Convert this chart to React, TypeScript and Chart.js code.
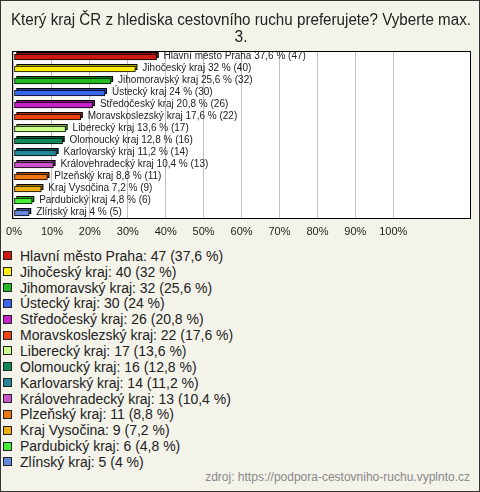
import React, { useEffect, useRef } from "react";
import { Chart, registerables } from "chart.js";

Chart.register(...registerables);

const titleLines = [
  "Který kraj ČR z hlediska cestovního ruchu preferujete? Vyberte max.",
  "3.",
];
const categories = [
  "Hlavní město Praha",
  "Jihočeský kraj",
  "Jihomoravský kraj",
  "Ústecký kraj",
  "Středočeský kraj",
  "Moravskoslezský kraj",
  "Liberecký kraj",
  "Olomoucký kraj",
  "Karlovarský kraj",
  "Královehradecký kraj",
  "Plzeňský kraj",
  "Kraj Vysočina",
  "Pardubický kraj",
  "Zlínský kraj",
];
const counts = [47, 40, 32, 30, 26, 22, 17, 16, 14, 13, 11, 9, 6, 5];
const percents = [37.6, 32, 25.6, 24, 20.8, 17.6, 13.6, 12.8, 11.2, 10.4, 8.8, 7.2, 4.8, 4];
const colors = [
  "#cc1a10",
  "#ffee11",
  "#22bb22",
  "#3a66ee",
  "#c522cc",
  "#ee4411",
  "#ccff88",
  "#11885a",
  "#228899",
  "#cc55cc",
  "#ee7711",
  "#eeb011",
  "#44ee33",
  "#6688dd",
];
const tickValues = [0, 10, 20, 30, 40, 50, 60, 70, 80, 90, 100];
const sourceText = "zdroj: https://podpora-cestovniho-ruchu.vyplnto.cz";

const FONT = "'Liberation Sans', Arial, sans-serif";

const fmt = (p: number) => String(p).replace(".", ",");

function darker(hex: string, f = 0.7) {
  const n = parseInt(hex.slice(1), 16);
  const r = Math.round(((n >> 16) & 255) * f);
  const g = Math.round(((n >> 8) & 255) * f);
  const b = Math.round((n & 255) * f);
  return `rgb(${r},${g},${b})`;
}

const boxPlugin = {
  id: "boxPlugin",
  beforeDraw(chart: any) {
    const { ctx, chartArea: a } = chart;
    ctx.save();
    ctx.fillStyle = "#ffffff";
    ctx.fillRect(a.left, a.top, a.right - a.left, a.bottom - a.top);
    ctx.restore();
  },
  beforeDatasetsDraw(chart: any) {
    const { ctx } = chart;
    const meta = chart.getDatasetMeta(0);
    ctx.save();
    meta.data.forEach((el: any, i: number) => {
      const h = el.height;
      const x0 = Math.min(el.base, el.x);
      const w = Math.abs(el.x - el.base);
      ctx.fillStyle = darker(colors[i]);
      ctx.strokeStyle = "#000";
      ctx.lineWidth = 1;
      ctx.fillRect(x0 + 2, el.y - h / 2 - 2, w, h);
      ctx.strokeRect(x0 + 2.5, el.y - h / 2 - 1.5, w - 1, h - 1);
    });
    ctx.restore();
  },
  afterDatasetsDraw(chart: any) {
    const { ctx } = chart;
    const meta = chart.getDatasetMeta(0);
    ctx.save();
    ctx.font = `10px ${FONT}`;
    ctx.fillStyle = "#222";
    ctx.textBaseline = "middle";
    ctx.textAlign = "left";
    meta.data.forEach((el: any, i: number) => {
      ctx.fillText(
        `${categories[i]} ${fmt(percents[i])} % (${counts[i]})`,
        el.x + 7,
        el.y - 1
      );
    });
    ctx.restore();
  },
  afterDraw(chart: any) {
    const { ctx, chartArea: a } = chart;
    ctx.save();
    ctx.strokeStyle = "#000";
    ctx.lineWidth = 1;
    ctx.strokeRect(
      Math.round(a.left) + 0.5,
      Math.round(a.top) + 0.5,
      Math.round(a.right - a.left) - 1,
      Math.round(a.bottom - a.top) - 1
    );
    ctx.restore();
  },
};

export default function App() {
  const ref = useRef<HTMLCanvasElement>(null);

  useEffect(() => {
    if (!ref.current) return;
    const chart = new Chart(ref.current, {
      type: "bar",
      data: {
        labels: categories,
        datasets: [
          {
            data: percents,
            backgroundColor: colors,
            borderColor: "#000",
            borderWidth: 1,
            borderSkipped: false,
            barThickness: 6,
          },
        ],
      },
      options: {
        indexAxis: "y",
        animation: false,
        responsive: false,
        maintainAspectRatio: false,
        devicePixelRatio: 1,
        layout: { padding: { left: 11, right: 9, top: 0, bottom: 0 } },
        plugins: {
          legend: { display: false },
          tooltip: { enabled: false },
          title: {
            display: true,
            text: titleLines,
            color: "#222",
            font: { family: FONT, size: 15.6, weight: "normal", lineHeight: 1.1 },
            padding: { top: 12.4, bottom: 4.3 },
          },
        },
        scales: {
          x: {
            type: "linear",
            min: -0.5,
            max: 120.5,
            afterBuildTicks: (axis: any) => {
              axis.ticks = tickValues.map((v) => ({ value: v }));
            },
            afterFit: (s: any) => {
              s.height = 23;
            },
            grid: { color: "#c0c0c0", drawTicks: false, lineWidth: 1 },
            border: { display: false },
            ticks: {
              padding: 6,
              color: "#222",
              font: { family: FONT, size: 11 },
              callback: (v: any) => `${v}%`,
            },
          },
          y: {
            display: false,
            grid: { display: false },
          },
        },
      },
      plugins: [boxPlugin],
    });
    return () => chart.destroy();
  }, []);

  return (
    <div
      style={{
        position: "absolute",
        top: 0,
        left: 0,
        width: 480,
        height: 492,
        boxSizing: "border-box",
        border: "1px solid #333",
        background: "#f4f3ea",
        fontFamily: FONT,
        overflow: "hidden",
      }}
    >
      <canvas
        ref={ref}
        width={480}
        height={242}
        style={{ position: "absolute", top: -1, left: -1, width: 480, height: 242 }}
      />
      <div style={{ position: "absolute", top: 247, left: 2 }}>
        {categories.map((c, i) => (
          <div
            key={c}
            style={{
              display: "flex",
              alignItems: "center",
              height: 15.85,
              fontSize: 14,
              color: "#222",
              whiteSpace: "nowrap",
            }}
          >
            <span
              style={{
                display: "inline-block",
                width: 9,
                height: 9,
                boxSizing: "border-box",
                border: "1px solid #222",
                background: colors[i],
                marginRight: 8,
              }}
            />
            <span>{`${c}: ${counts[i]} (${fmt(percents[i])} %)`}</span>
          </div>
        ))}
      </div>
      <div
        style={{
          position: "absolute",
          right: 9,
          top: 469,
          fontSize: 12,
          color: "#888",
          whiteSpace: "nowrap",
        }}
      >
        {sourceText}
      </div>
    </div>
  );
}
